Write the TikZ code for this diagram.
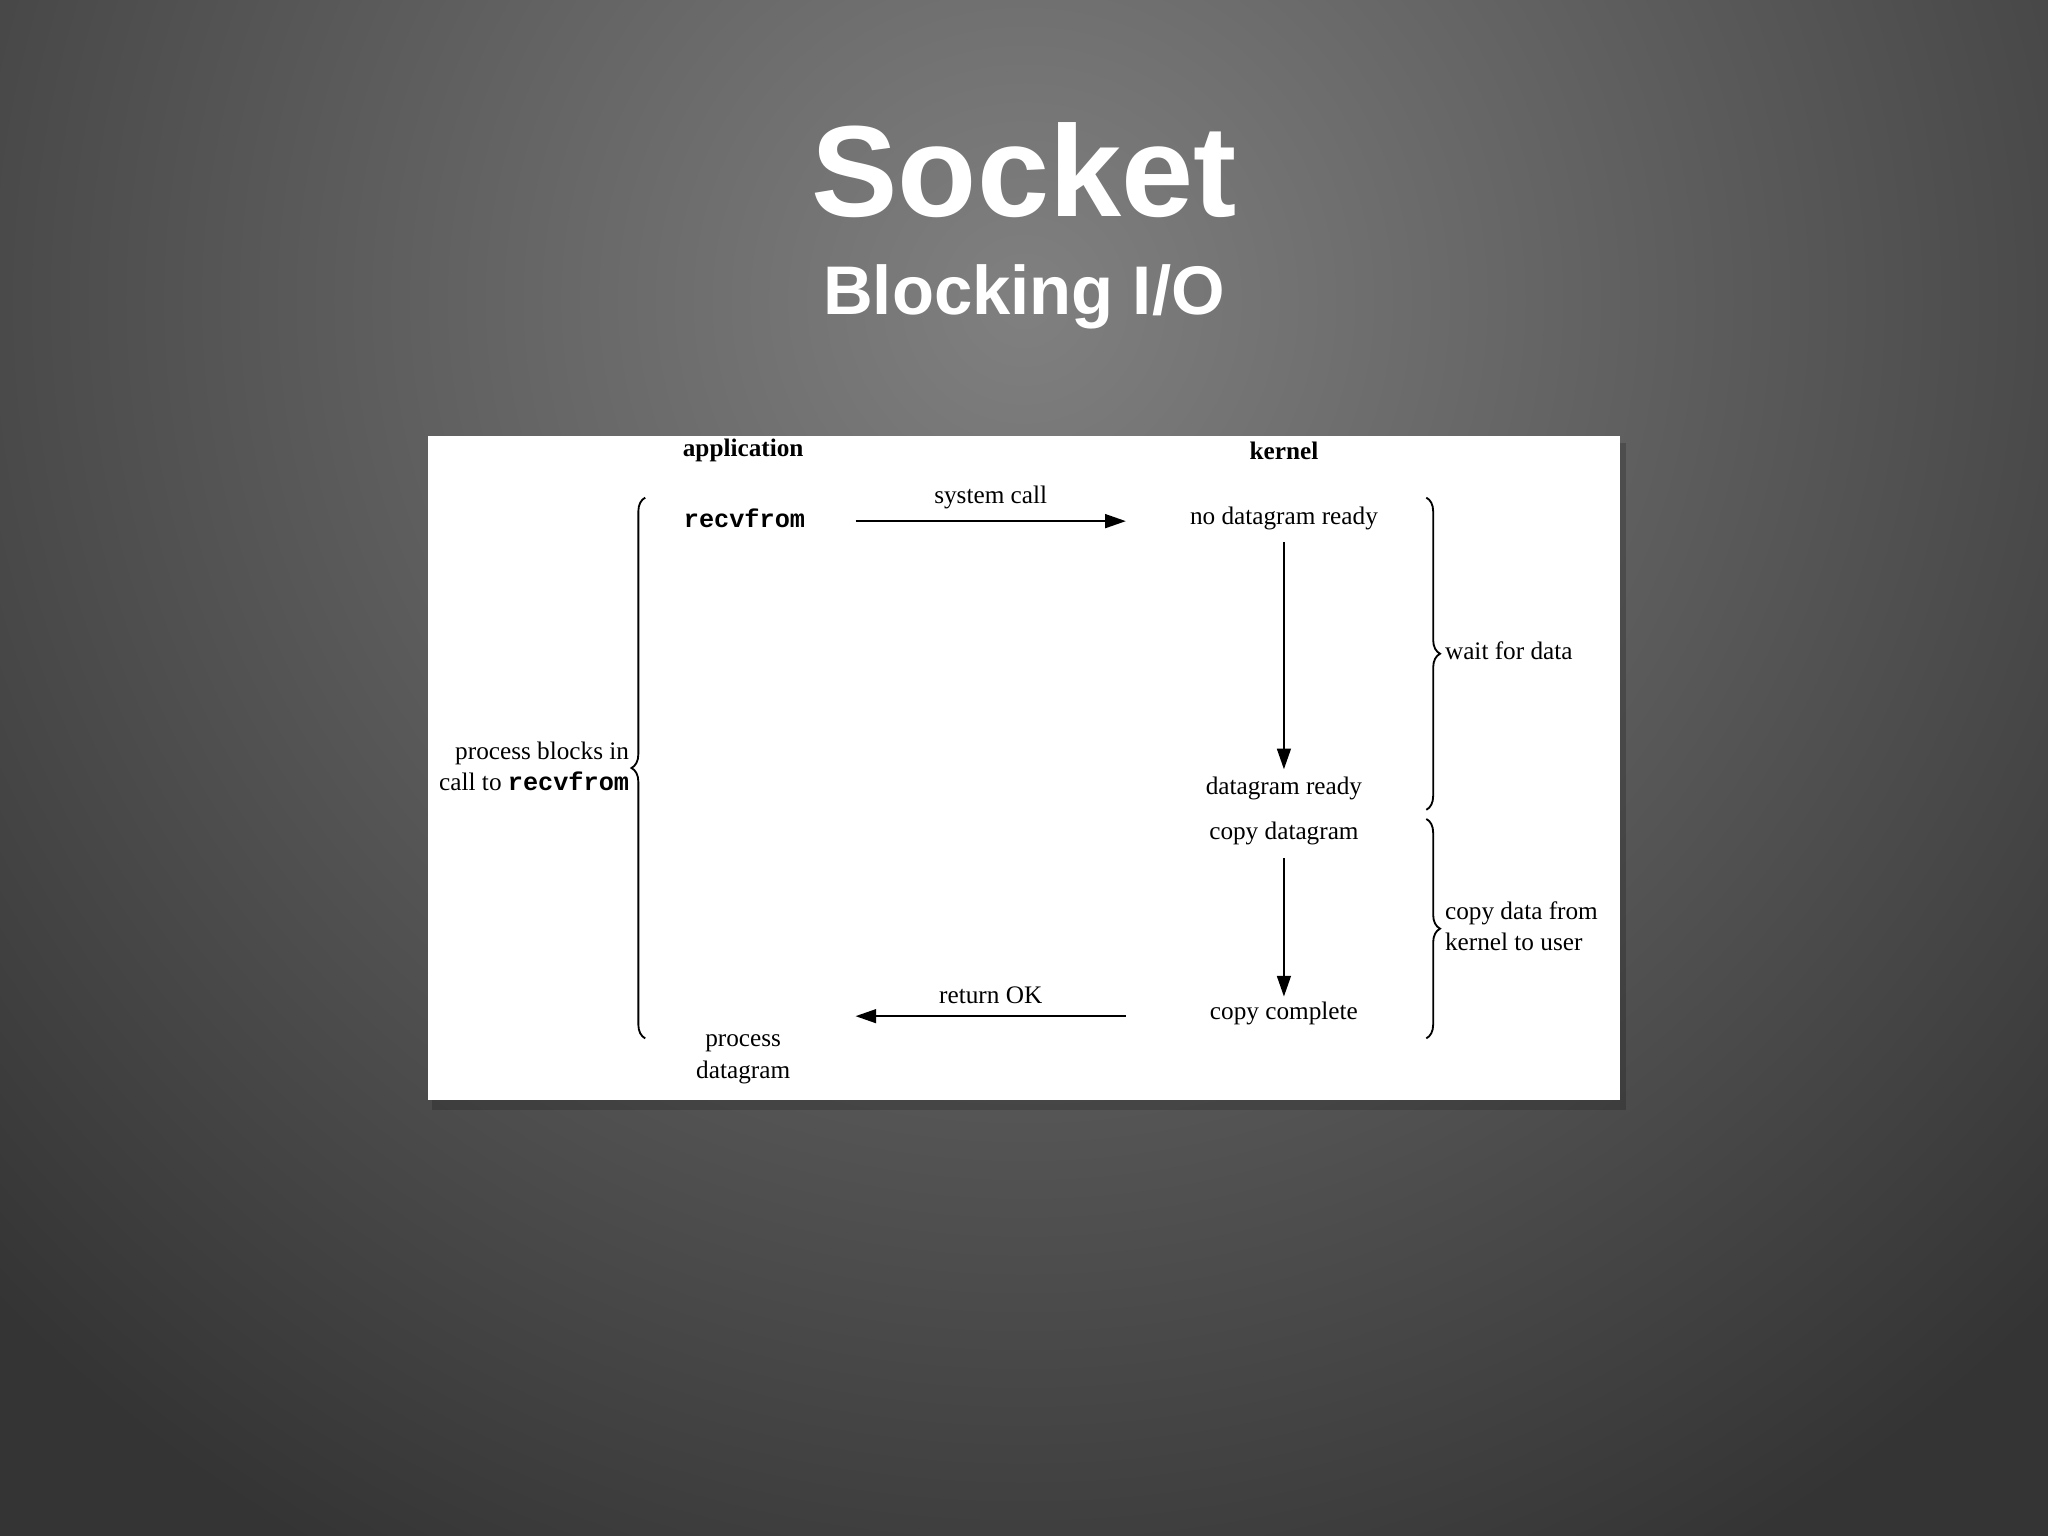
\documentclass[tikz,border=0pt]{standalone}
\usepackage{fontspec}
\setmainfont{Liberation Serif}
\newfontfamily\titlefont{Liberation Sans}
\newfontfamily\monofont{Liberation Mono}
\usetikzlibrary{arrows.meta,decorations.pathreplacing}
\definecolor{bgdark}{RGB}{52,52,52}
\definecolor{bglight}{RGB}{128,128,128}
\tikzset{
 lbl/.style={font=\fontsize{11}{13}\selectfont, inner sep=0pt},
 hdr/.style={lbl, font=\fontsize{11}{13}\selectfont\bfseries},
 flow/.style={-{Triangle[length=9pt,width=6pt]}, line width=0.9pt},
 brc/.style={decorate, decoration={brace, amplitude=6pt}, line width=0.8pt},
}
\begin{document}
\begin{tikzpicture}[x=0.02cm,y=-0.02cm]
\useasboundingbox (0,0) rectangle (1568,1176);
\fill[bgdark] (0,0) rectangle (1568,1176);
\begin{scope}
\clip (0,0) rectangle (1568,1176);
\shade[inner color=bglight, outer color=bgdark] (784,230) circle (1100);
\end{scope}
% titles
\node (title) [text=white, font=\titlefont\bfseries\fontsize{56.5}{64}\selectfont] at (784,130) {Socket};
\node (sub) [text=white, font=\titlefont\bfseries\fontsize{30}{36}\selectfont] at (784,227) {Blocking I/O};
% panel
\fill[black, opacity=0.18] (331,339) rectangle (1245,850);
\fill[white] (328,334) rectangle (1240,842);
% headers
\node[hdr] (app) at (569,345) {application};
\node[hdr] (ker) at (983,345) {kernel};
\node[lbl, font=\monofont\bfseries\fontsize{11}{13}\selectfont] (recv) at (570,397) {recvfrom};
\node[lbl] (ndr) at (983,397) {no datagram ready};
\node[lbl] (dr) at (983,604) {datagram ready};
\node[lbl] (cd) at (983,638) {copy datagram};
\node[lbl] (cc) at (983,776) {copy complete};
\node[lbl, align=center, font=\fontsize{11}{14}\selectfont] (pd) at (569,811) {process\\datagram};
\coordinate (s1) at (655,399); \coordinate (s2) at (862,399);
\coordinate (r1) at (862,778); \coordinate (r2) at (655,778);
\draw[flow] (s1) -- node[lbl, above=5pt] (sc) {system call} (s2);
\draw[flow] (r1) -- node[lbl, above=5pt] (rok) {return OK} (r2);
\coordinate (d1) at (983,415); \coordinate (d2) at (983,589);
\coordinate (d3) at (983,657); \coordinate (d4) at (983,763);
\draw[flow] (d1) -- (d2);
\draw[flow] (d3) -- (d4);
% braces
\coordinate (lb1) at (494,795); \coordinate (lb2) at (494,381);
\draw[brc] (lb1) -- (lb2);
\coordinate (rb1) at (1092,381); \coordinate (rb2) at (1092,620);
\coordinate (rb3) at (1092,627); \coordinate (rb4) at (1092,795);
\draw[brc] (rb1) -- (rb2);
\draw[brc] (rb3) -- (rb4);
\node[lbl, align=right, anchor=east, font=\fontsize{11}{13.5}\selectfont] (pb) at (482,587) {process blocks in\\call to {\monofont\bfseries recvfrom}};
\node[lbl, anchor=west] (wfd) at (1106,498) {wait for data};
\node[lbl, align=left, anchor=west, font=\fontsize{11}{13.5}\selectfont] (cdk) at (1106,709) {copy data from\\kernel to user};
\end{tikzpicture}
\end{document}
